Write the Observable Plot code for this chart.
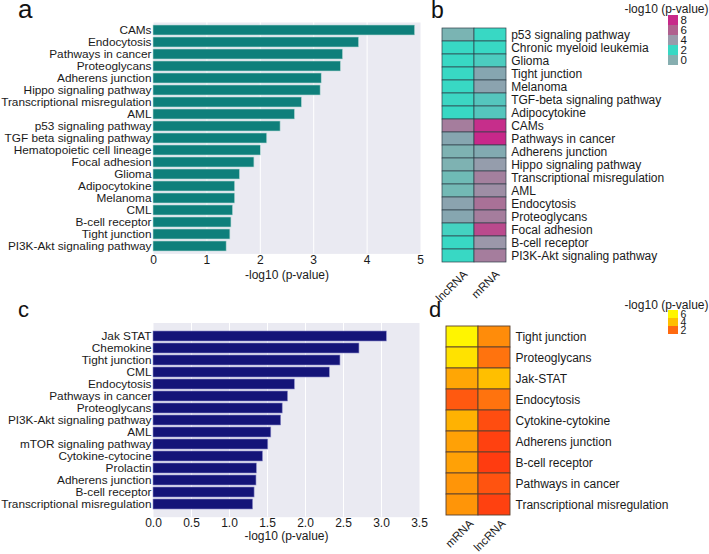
<!DOCTYPE html>
<html><head><meta charset="utf-8">
<script src="https://cdn.jsdelivr.net/npm/d3@7"></script>
<script src="https://cdn.jsdelivr.net/npm/@observablehq/plot@0.6"></script>
<style>
body{margin:0;background:#fff;}
#fig{position:relative;width:709px;height:554px;overflow:hidden;font-family:"Liberation Sans",Arial,sans-serif;}
#fig > .p{position:absolute;}
</style></head><body><div id="fig"></div>
<script>
// ---------- Panel a ----------
const aPathways = ["CAMs","Endocytosis","Pathways in cancer","Proteoglycans","Adherens junction","Hippo signaling pathway","Transcriptional misregulation","AML","p53 signaling pathway","TGF beta signaling pathway","Hematopoietic cell lineage","Focal adhesion","Glioma","Adipocytokine","Melanoma","CML","B-cell receptor","Tight junction","PI3K-Akt signaling pathway"];
const aValues = [4.9,3.85,3.55,3.51,3.15,3.13,2.78,2.65,2.38,2.13,2.01,1.89,1.62,1.53,1.53,1.49,1.46,1.44,1.37];
const aTicks = [0,1,2,3,4,5];

// ---------- Panel b ----------
const bPathways = ["p53 signaling pathway","Chronic myeloid leukemia","Glioma","Tight junction","Melanoma","TGF-beta signaling pathway","Adipocytokine","CAMs","Pathways in cancer","Adherens junction","Hippo signaling pathway","Transcriptional misregulation","AML","Endocytosis","Proteoglycans","Focal adhesion","B-cell receptor","PI3K-Akt signaling pathway"];
const bColumns = ["lncRNA","mRNA"];
const bLnc  = [0.3,2.0,2.0,2.0,2.0,1.9,2.0,5.0,3.6,0.2,0.2,0.6,0.5,3.7,3.6,1.7,2.0,2.0];
const bMrna = [2.0,2.0,2.4,3.6,3.7,2.6,2.6,7.8,8.0,3.5,3.9,4.9,4.4,5.4,5.0,6.8,4.1,5.0];
const bLegend = [8,6,4,2,0];

// ---------- Panel c ----------
const cPathways = ["Jak STAT","Chemokine","Tight junction","CML","Endocytosis","Pathways in cancer","Proteoglycans","PI3K-Akt signaling pathway","AML","mTOR signaling pathway","Cytokine-cytocine","Prolactin","Adherens junction","B-cell receptor","Transcriptional misregulation"];
const cValues = [3.07,2.71,2.46,2.32,1.86,1.77,1.70,1.68,1.55,1.51,1.44,1.36,1.355,1.33,1.31];
const cTicks = [0,0.5,1,1.5,2,2.5,3,3.5];

// ---------- Panel d ----------
const dPathways = ["Tight junction","Proteoglycans","Jak-STAT","Endocytosis","Cytokine-cytokine","Adherens junction","B-cell receptor","Pathways in cancer","Transcriptional misregulation"];
const dColumns = ["mRNA","lncRNA"];
const dMrna = [6.2,5.3,3.4,1.7,3.7,3.3,3.3,3.0,3.0];
const dLnc  = [2.8,2.2,4.0,2.2,1.5,1.3,1.2,1.6,1.3];
const dLegend = [6,4,2];

const axisTitle = "-log10 (p-value)";
const FONT = "Liberation Sans, Arial, sans-serif";
const fig = document.getElementById("fig");
function place(node, left, top) {
  node.classList.add("p");
  node.style.left = left + "px";
  node.style.top = top + "px";
  fig.appendChild(node);
}
const baseStyle = {fontFamily: FONT, fontSize: "12px", color: "#1a1a1a", background: "transparent", overflow: "visible"};

// color scales
const bColor = {type: "linear", domain: [0,2,4,6,8], range: ["#86aeb0","#38d8c4","#9a9aab","#b0608f","#c8288a"], interpolate: "rgb", clamp: true};
const dColor = {type: "linear", domain: [1,2,4,6], range: ["#ff3010","#ff6a10","#ffbf00","#fff500"], interpolate: "rgb", clamp: true};

function barPanel(names, values, ticks, domain, fill, opts) {
  const data = names.map((n, i) => ({name: n, value: values[i]}));
  const grid = ticks.filter(t => t > domain[0] && t < domain[1]);
  return Plot.plot({
    width: opts.width, height: opts.height,
    marginLeft: opts.ml, marginRight: opts.mr, marginTop: opts.mt, marginBottom: opts.mb,
    style: baseStyle,
    x: {domain},
    y: {domain: names, paddingInner: 0.2, paddingOuter: 0.1},
    marks: [
      Plot.frame({fill: "#eaeaf2", stroke: "none"}),
      Plot.ruleX(grid, {stroke: "#ffffff", strokeWidth: 1}),
      Plot.barX(data, {x: "value", y: "name", fill, stroke: opts.edge, strokeWidth: 0.6}),
      Plot.axisX({ticks, tickFormat: opts.fmt, tickSize: 0, tickPadding: 1.5, fontSize: 12,
        label: axisTitle, labelAnchor: "center", labelArrow: "none", labelOffset: opts.lo}),
      Plot.axisY({tickSize: 0, tickPadding: 2, label: null, fontSize: 11.8})
    ]
  });
}

function heatPanel(rows, cols, colVals, color, opts) {
  const cells = rows.flatMap((r, i) => cols.map((c, j) => ({row: r, col: c, v: colVals[j][i]})));
  return Plot.plot({
    width: opts.width, height: opts.height,
    marginLeft: opts.ml, marginRight: opts.mr, marginTop: opts.mt, marginBottom: opts.mb,
    style: baseStyle,
    x: {domain: cols, padding: 0},
    y: {domain: rows, padding: 0},
    color,
    marks: [
      Plot.cell(cells, {x: "col", y: "row", fill: "v", stroke: opts.stroke, strokeWidth: opts.sw}),
      Plot.axisY({anchor: "right", tickSize: 0, tickPadding: opts.tp, label: null, fontSize: 12}),
      Plot.axisX({tickRotate: -45, tickSize: 0, tickPadding: 4, label: null, fontSize: 11.5, dx: opts.cdx, dy: opts.cdy})
    ]
  });
}

function legendPanel(values, color, opts) {
  const items = values.map(v => ({k: String(v), v}));
  return Plot.plot({
    width: opts.width, height: opts.height,
    marginLeft: opts.ml, marginRight: opts.mr, marginTop: opts.mt, marginBottom: opts.mb,
    style: baseStyle,
    x: {domain: ["s"], padding: 0, axis: null},
    y: {domain: items.map(d => d.k), padding: 0},
    color,
    marks: [
      Plot.cell(items, {x: () => "s", y: "k", fill: "v"}),
      Plot.axisY({anchor: "right", tickSize: 0, tickPadding: 2, label: null, fontSize: opts.fs}),
      Plot.text([axisTitle], {text: d => d, frameAnchor: "top-right", textAnchor: "end", lineAnchor: "middle", dx: opts.tdx, dy: opts.tdy, fontSize: 12, fill: "#1a1a1a"})
    ]
  });
}

// Panel a
place(barPanel(aPathways, aValues, aTicks, [0,5], "#0e7f7b",
  {width: 425, height: 290, ml: 153, mr: 5, mt: 22, mb: 36.6, edge: "#b9d9d6", fmt: d3.format("d"), lo: 25}), 0, 0);
// Panel c
place(barPanel(cPathways, cValues, cTicks, [0,3.5], "#141478",
  {width: 425, height: 259, ml: 153, mr: 6, mt: 27.5, mb: 37.3, edge: "#8a8ac8", fmt: d3.format(".1f"), lo: 23}), 0, 295);
// Panel b
place(heatPanel(bPathways, bColumns, [bLnc, bMrna], bColor,
  {width: 279, height: 300, ml: 11.7, mr: 202.3, mt: 25, mb: 35, stroke: "#2e3e48", sw: 0.7, tp: 4, cdx: 7, cdy: 3}), 430, 0);
// Panel d
place(heatPanel(dPathways, dColumns, [dMrna, dLnc], dColor,
  {width: 279, height: 259, ml: 15, mr: 199, mt: 27.7, mb: 36.7, stroke: "#5a4030", sw: 0.9, tp: 5, cdx: 9, cdy: 0}), 430, 295);
// Legends
place(legendPanel(bLegend, bColor, {width: 109, height: 75, ml: 68, mr: 31, mt: 14, mb: 9, tdx: 30, tdy: -5.5, fs: 11.5}), 600, 0);
place(legendPanel(dLegend, dColor, {width: 109, height: 50, ml: 68, mr: 31, mt: 15, mb: 11, tdx: 30, tdy: -5, fs: 10.5}), 600, 295);

// Panel letters
const ns = "http://www.w3.org/2000/svg";
const over = document.createElementNS(ns, "svg");
over.setAttribute("width", 709); over.setAttribute("height", 554);
over.style.pointerEvents = "none";
const letters = [["a", 18, 18, 26], ["b", 431, 18, 23], ["c", 18, 316.7, 22], ["d", 429, 317, 22]];
for (const [t, x, y, s] of letters) {
  const el = document.createElementNS(ns, "text");
  el.setAttribute("x", x); el.setAttribute("y", y);
  el.setAttribute("font-size", s); el.setAttribute("font-family", FONT); el.setAttribute("fill", "#111");
  el.textContent = t; over.appendChild(el);
}
place(over, 0, 0);
</script></body></html>
